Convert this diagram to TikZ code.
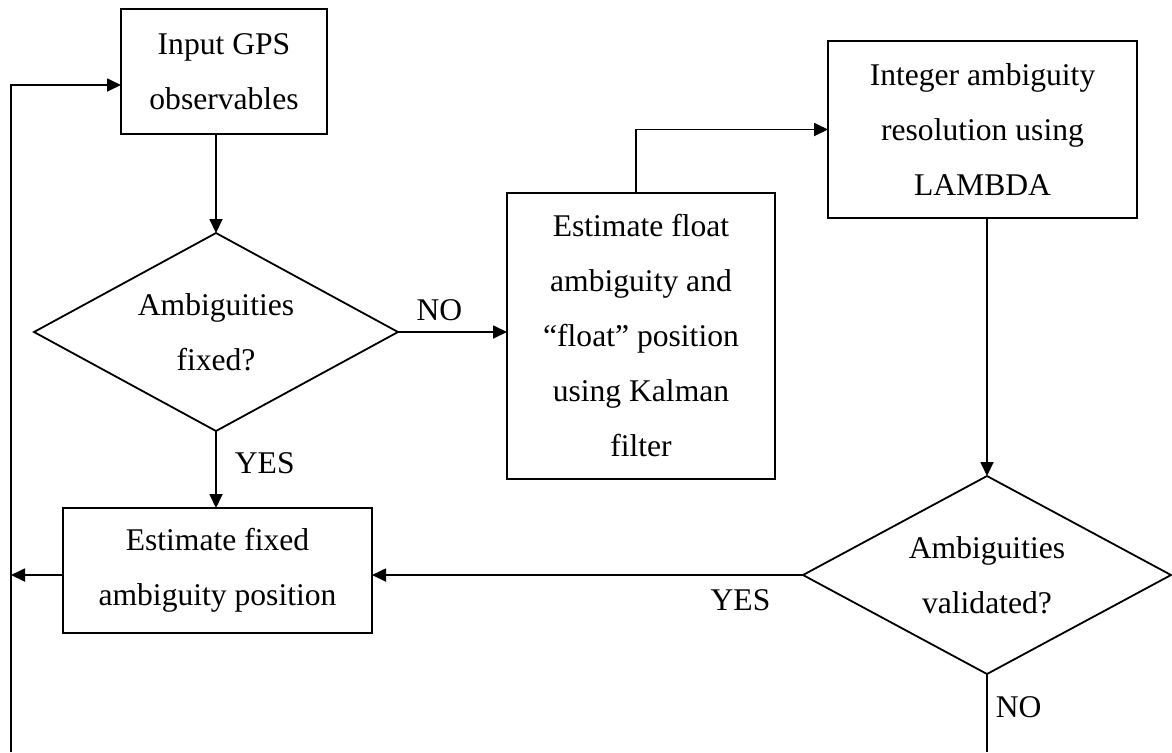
\documentclass[tikz,border=0pt]{standalone}
\usepackage{fontspec}
\setmainfont{Liberation Serif}
\usetikzlibrary{shapes.geometric,arrows.meta,positioning,calc}

\begin{document}
\begin{tikzpicture}[x=0.5pt, y=-0.5pt,
    font=\fontsize{15.8pt}{27.5pt}\selectfont,
    box/.style={draw, line width=0.9pt, align=center, inner sep=0pt, outer sep=0pt},
    decision/.style={draw, diamond, aspect=1.8, line width=0.9pt, align=center, inner sep=0pt, outer sep=0pt},
    arr/.style={line width=0.9pt, -{Triangle[length=7pt, width=6.5pt]}},
    conn/.style={line width=0.9pt},
    lbl/.style={inner sep=2pt}]
    \useasboundingbox (0,0) rectangle (1172,752);
    % Blocks
    \node[box, minimum width=103pt, minimum height=62.5pt] (input) at (224,71.5) {Input GPS\\observables};
    \node[decision, minimum width=182pt, minimum height=99pt] (fixedq) at (216,332) {Ambiguities\\fixed?};
    \node[box, minimum width=154.5pt, minimum height=62.5pt] (fixedbox) at (217.5,570.5) {Estimate fixed\\ambiguity position};
    \node[box, minimum width=134pt, minimum height=143pt] (floatbox) at (641,336) {Estimate float\\ambiguity and\\``float'' position\\using Kalman\\filter};
    \node[box, minimum width=154.5pt, minimum height=88.5pt] (lambda) at (982.5,129.5) {Integer ambiguity\\resolution using\\LAMBDA};
    \node[decision, minimum width=184pt, minimum height=99pt] (validq) at (987,575) {Ambiguities\\validated?};
    % Free ends
    \coordinate (loopL) at (11,752);
    \coordinate (loopR) at (987,752);
    \coordinate (back) at (11,575);
    % Connectors
    \draw[arr] (input.south -| fixedq.north) -- (fixedq.north);
    \draw[arr] (fixedq.south) -- node[lbl, right=7pt, pos=0.42] (yesa) {YES} (fixedq.south |- fixedbox.north);
    \draw[arr] (fixedq.east) -- node[lbl, pos=0.38, anchor=base, yshift=6pt] (noa) {NO} (fixedq.east -| floatbox.west);
    \draw[arr] ([xshift=-2.5pt]floatbox.north) |- (lambda.west);
    \draw[arr] (lambda.south -| validq.north) -- (validq.north);
    \draw[arr] (validq.west) -- node[lbl, below=5pt, pos=0.145] (yesb) {YES} (validq.west -| fixedbox.east);
    \draw[conn] (validq.south) -- node[lbl, right=2pt, pos=0.42] (nob) {NO} (loopR);
    \draw[arr] (fixedbox.west |- back) -- (back);
    \draw[arr] (loopL) |- ([yshift=-6.75pt]input.west);
\end{tikzpicture}
\end{document}
